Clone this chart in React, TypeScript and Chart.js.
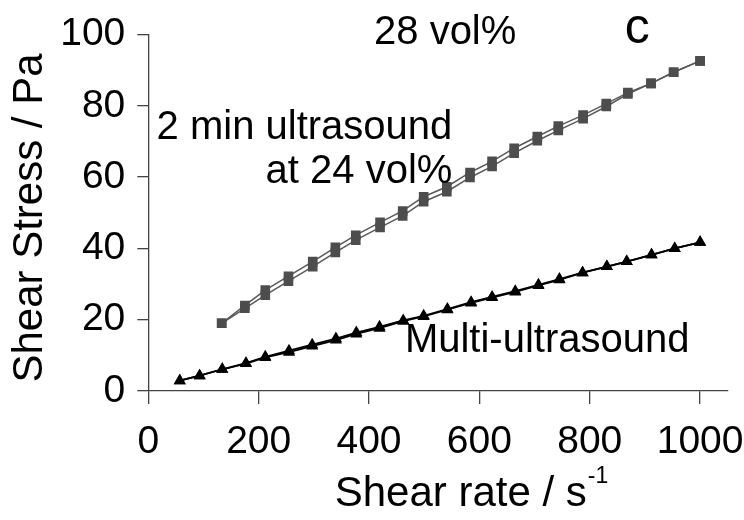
import React, { useEffect, useRef } from "react";
import { Chart, registerables } from "chart.js";

Chart.register(...registerables);

// Shear rate (1/s) for the 28 vol% suspension after 2 min ultrasound at 24 vol%
const sonicatedRate = [133, 175, 212, 254, 298, 339, 376, 420, 461, 499, 541, 583, 623, 663, 705, 743, 788, 830, 869, 911, 952, 1000];
// Shear stress (Pa), ramp up and ramp down
const sonicatedStressUp = [19.0, 24.0, 28.3, 32.2, 36.3, 40.3, 43.7, 47.3, 50.5, 54.5, 57.3, 61.3, 64.4, 68.1, 71.4, 74.3, 77.4, 80.6, 83.7, 86.3, 89.4, 92.6];
const sonicatedStressDown = [19.0, 23.2, 26.9, 30.8, 34.9, 38.9, 42.3, 45.9, 49.1, 53.1, 55.9, 59.9, 63.0, 66.7, 70.2, 73.1, 76.4, 79.8, 83.3, 86.3, 89.4, 92.6];

// Shear rate (1/s) and stress (Pa) for the multi-ultrasound sample
const multiRate = [57, 93, 134, 177, 212, 255, 297, 340, 377, 419, 462, 499, 542, 585, 623, 665, 707, 745, 787, 831, 867, 912, 954, 1000];
const multiStressUp = [2.9, 4.3, 6.1, 7.8, 9.6, 11.3, 13.0, 14.7, 16.4, 18.0, 19.8, 21.1, 23.0, 24.9, 26.4, 28.0, 29.8, 31.4, 33.2, 34.9, 36.3, 38.2, 40.0, 41.7];
const multiStressDown = [2.9, 4.3, 6.1, 7.7, 9.4, 10.9, 12.6, 14.3, 16.0, 17.6, 19.6, 20.9, 22.8, 24.7, 26.2, 27.8, 29.6, 31.2, 33.2, 34.9, 36.3, 38.2, 40.0, 41.7];

const xTicks = [0, 200, 400, 600, 800, 1000];
const yTicks = [0, 20, 40, 60, 80, 100];

const FONT = "'Liberation Sans', Arial, Helvetica, sans-serif";

const pairs = (xs: number[], ys: number[]) => xs.map((x, i) => ({ x, y: ys[i] }));

// Free text labels placed in data coordinates
const notes = [
  { text: "28 vol%", x: 538, y: 100.4, align: "center", size: 40 },
  { text: "c", x: 886, y: 101.5, align: "center", size: 50 },
  { text: "2 min ultrasound", x: 551, y: 73.8, align: "right", size: 40 },
  { text: "at 24 vol%", x: 551, y: 61.4, align: "right", size: 40 },
  { text: "Multi-ultrasound", x: 465, y: 14.0, align: "left", size: 40 },
];

const textPlugin = {
  id: "panelText",
  afterDraw(chart: any) {
    const { ctx, scales, chartArea } = chart;
    const xs = scales.x;
    const ys = scales.y;
    ctx.save();
    ctx.fillStyle = "#000";
    ctx.textBaseline = "middle";
    for (const n of notes) {
      ctx.font = `${n.size}px ${FONT}`;
      ctx.textAlign = n.align as CanvasTextAlign;
      ctx.fillText(n.text, xs.getPixelForValue(n.x), ys.getPixelForValue(n.y));
    }
    // y axis title
    ctx.save();
    ctx.translate(30, 218);
    ctx.rotate(-Math.PI / 2);
    ctx.font = `42px ${FONT}`;
    ctx.textAlign = "center";
    ctx.fillText("Shear Stress / Pa", 0, 0);
    ctx.restore();
    // x axis title with superscript
    const main = "Shear rate / s";
    ctx.font = `42px ${FONT}`;
    const w1 = ctx.measureText(main).width;
    ctx.font = `23px ${FONT}`;
    const w2 = ctx.measureText("-1").width;
    const cx = 471;
    const left = cx - (w1 + w2) / 2;
    ctx.textAlign = "left";
    ctx.font = `42px ${FONT}`;
    ctx.fillText(main, left, 494);
    ctx.font = `23px ${FONT}`;
    ctx.fillText("-1", left + w1 + 1, 477);
    ctx.restore();
    void chartArea;
  },
};

export default function App() {
  const ref = useRef<HTMLCanvasElement | null>(null);

  useEffect(() => {
    if (!ref.current) return;
    const gray = "#4d4d4d";
    const chart = new Chart(ref.current, {
      type: "line",
      data: {
        datasets: [
          {
            data: pairs(sonicatedRate, sonicatedStressUp),
            borderColor: "#595959",
            borderWidth: 1.5,
            pointStyle: "rect",
            pointRadius: 6.8,
            pointBackgroundColor: gray,
            pointBorderWidth: 0,
          },
          {
            data: pairs(sonicatedRate, sonicatedStressDown),
            borderColor: "#595959",
            borderWidth: 1.5,
            pointStyle: "rect",
            pointRadius: 6.8,
            pointBackgroundColor: gray,
            pointBorderWidth: 0,
          },
          {
            data: pairs(multiRate, multiStressUp),
            borderColor: "#000",
            borderWidth: 1.8,
            pointStyle: "triangle",
            pointRadius: 7,
            pointBackgroundColor: "#000",
            pointBorderWidth: 0,
          },
          {
            data: pairs(multiRate, multiStressDown),
            borderColor: "#000",
            borderWidth: 1.8,
            pointStyle: "triangle",
            pointRadius: 7,
            pointBackgroundColor: "#000",
            pointBorderWidth: 0,
          },
        ],
      },
      options: {
        animation: false,
        responsive: false,
        events: [],
        layout: { padding: { top: 34.5, right: 16.3, left: 0, bottom: 0 } },
        plugins: {
          legend: { display: false },
          tooltip: { enabled: false },
          title: { display: false },
        },
        scales: {
          x: {
            type: "linear",
            min: 0,
            max: 1050,
            afterFit: (s: any) => {
              s.height = 129;
              s.paddingLeft = 0;
              s.paddingRight = 0;
            },
            afterBuildTicks: (s: any) => {
              s.ticks = xTicks.map((v) => ({ value: v }));
            },
            ticks: {
              font: { family: FONT, size: 39 },
              color: "#000",
              padding: 15,
              maxRotation: 0,
              callback: (v: any) => String(v),
            },
            grid: {
              drawOnChartArea: false,
              tickLength: 13,
              color: "#444",
              lineWidth: 1.3,
            },
            border: { color: "#444", width: 1.3 },
          },
          y: {
            type: "linear",
            min: 0,
            max: 100,
            afterFit: (s: any) => {
              s.width = 148.3;
              s.paddingTop = 0;
              s.paddingBottom = 0;
            },
            afterBuildTicks: (s: any) => {
              s.ticks = yTicks.map((v) => ({ value: v }));
            },
            ticks: {
              font: { family: FONT, size: 39 },
              color: "#000",
              padding: 12,
              callback: (v: any) => String(v),
            },
            grid: {
              drawOnChartArea: false,
              tickLength: 11,
              color: "#444",
              lineWidth: 1.3,
            },
            border: { color: "#444", width: 1.3 },
          },
        },
      },
      plugins: [textPlugin],
    } as any);
    return () => chart.destroy();
  }, []);

  return (
    <div style={{ position: "fixed", left: 0, top: 0, width: 744, height: 520, background: "#fff" }}>
      <canvas ref={ref} width={744} height={520} />
    </div>
  );
}
